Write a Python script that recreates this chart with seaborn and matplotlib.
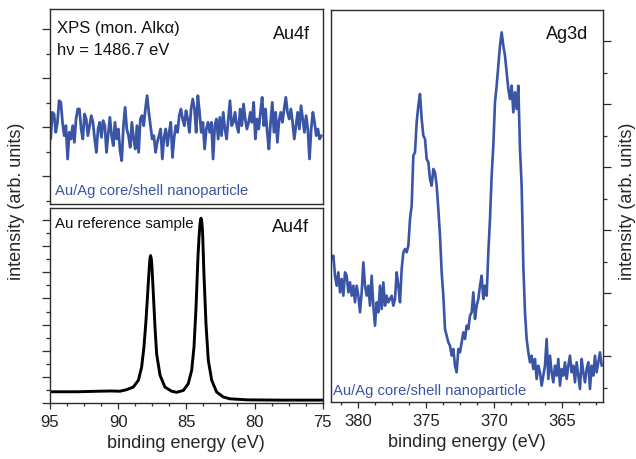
import numpy as np
import pandas as pd
import matplotlib
matplotlib.use("Agg")
import matplotlib.pyplot as plt
from matplotlib.ticker import MultipleLocator, NullLocator
import seaborn as sns

# ---------------- data ----------------
# Au4f region of the Au/Ag core/shell nanoparticle (arb. counts, equidistant energy grid)
au4f_shell_counts = [
    90, 170, 165, 110, 140, 205, 200, 140, 100, 130,
    30, 110, 90, 130, 80, 150, 180, 180, 120, 90,
    165, 150, 100, 130, 160, 140, 90, 50, 120, 140,
    95, 145, 130, 50, 105, 155, 100, 70, 140, 90,
    120, 55, 25, 130, 185, 120, 100, 65, 140, 90,
    60, 130, 50, 150, 160, 130, 180, 220, 170, 130,
    90, 100, 50, 80, 100, 120, 30, 95, 120, 70,
    110, 140, 35, 95, 130, 110, 160, 180, 150, 130,
    175, 150, 110, 180, 210, 180, 110, 220, 170, 110,
    140, 60, 120, 140, 110, 140, 30, 130, 150, 90,
    155, 100, 170, 120, 90, 150, 205, 130, 140, 170,
    130, 110, 180, 130, 195, 150, 120, 140, 170, 140,
    200, 90, 150, 120, 170, 215, 130, 180, 110, 60,
    140, 200, 110, 170, 80, 145, 170, 140, 180, 215,
    170, 150, 180, 140, 90, 130, 170, 120, 190, 150,
    110, 160, 120, 30, 120, 170, 140, 100, 120, 90,
    100,
]
au4f_shell_start, au4f_shell_stop = 94.95, 75.1

# Au4f region of the Au reference sample
au4f_ref_energy = [
    95.0, 93.0, 91.5, 90.5, 89.87, 89.38, 88.89, 88.52, 88.28, 88.11,
    87.96, 87.84, 87.72, 87.67, 87.62, 87.57, 87.52, 87.42, 87.30, 87.18,
    86.93, 86.57, 86.08, 85.71, 85.22, 84.86, 84.61, 84.44, 84.29, 84.15,
    84.07, 84.00, 83.93, 83.87, 83.81, 83.71, 83.56, 83.39, 83.14, 82.78,
    82.29, 81.80, 80.5, 78.0, 75.0,
]
au4f_ref_intensity = [
    0.43, 0.43, 0.45, 0.46, 0.45, 0.51, 0.61, 0.87, 1.37, 2.14,
    3.16, 4.17, 5.19, 5.52, 5.64, 5.52, 5.19, 4.17, 2.90, 1.88,
    1.06, 0.61, 0.45, 0.41, 0.48, 0.74, 1.25, 2.14, 3.66, 5.57,
    6.35, 6.84, 7.07, 6.95, 6.55, 4.94, 3.03, 1.63, 0.87, 0.42,
    0.23, 0.16, 0.12, 0.11, 0.11,
]

# Ag3d region of the Au/Ag core/shell nanoparticle (arb. counts, equidistant energy grid)
ag3d_shell_counts = [
    480, 490, 430, 400, 440, 380, 420, 370, 440, 430,
    380, 410, 370, 400, 350, 400, 370, 320, 380, 470,
    400, 370, 400, 340, 430, 340, 280, 350, 320, 400,
    330, 410, 340, 370, 350, 360, 370, 340, 360, 440,
    400, 350, 450, 500, 510, 500, 520, 600, 640, 790,
    800, 890, 940, 975, 900, 850, 840, 780, 770, 720,
    700, 750, 740, 700, 630, 550, 440, 370, 270, 250,
    230, 220, 190, 210, 160, 140, 210, 200, 230, 260,
    240, 280, 270, 310,
    320, 380, 300, 340, 360, 400, 430, 360, 400, 370,
    500, 600, 730, 820, 950, 1000, 1060, 1120, 1160, 1120,
    1090, 1040, 990, 960, 1000, 920, 980, 930, 1000, 810,
    700, 460, 320, 240, 200, 170, 190, 150, 180, 120,
    160, 140, 100, 130, 160, 240, 120, 190, 140, 110,
    160, 130, 180, 100, 150, 130, 170, 120, 160, 190,
    140, 160, 110, 170, 130, 90, 180, 140, 110, 150,
    170, 90, 160, 130, 190, 140, 170, 200, 160,
]
ag3d_shell_start, ag3d_shell_stop = 381.95, 362.1

au4f_limits = (95, 75)
ag3d_limits = (382, 362)

# ---------------- style ----------------
blue = "#3a55a6"
frame = "#2b2b2b"

sns.set_theme(style="white")
plt.rcParams["font.family"] = ["Liberation Sans", "DejaVu Sans"]
plt.rcParams["axes.edgecolor"] = frame
plt.rcParams["axes.linewidth"] = 1.0
plt.rcParams["xtick.color"] = frame
plt.rcParams["ytick.color"] = frame
plt.rcParams["xtick.labelcolor"] = "#222222"
plt.rcParams["ytick.labelcolor"] = "#222222"

W, H = 636, 460
fig = plt.figure(figsize=(W / 100, H / 100), dpi=100)


def px_axes(left, top, right, bottom):
    return fig.add_axes([left / W, 1 - bottom / H, (right - left) / W, (bottom - top) / H])


ax_top = px_axes(50, 10, 322.7, 205)
ax_bot = px_axes(50, 208.5, 322.7, 404)
ax_ag = px_axes(331, 11, 603, 403)

shell_df = pd.DataFrame({
    "energy": np.linspace(au4f_shell_start, au4f_shell_stop, len(au4f_shell_counts)),
    "counts": au4f_shell_counts,
})
ref_df = pd.DataFrame({"energy": au4f_ref_energy, "counts": au4f_ref_intensity})
ag_df = pd.DataFrame({
    "energy": np.linspace(ag3d_shell_start, ag3d_shell_stop, len(ag3d_shell_counts)),
    "counts": ag3d_shell_counts,
})

sns.lineplot(data=shell_df, x="energy", y="counts", ax=ax_top, color=blue, lw=2.0)
sns.lineplot(data=ref_df, x="energy", y="counts", ax=ax_bot, color="black", lw=2.1)
sns.lineplot(data=ag_df, x="energy", y="counts", ax=ax_ag, color=blue, lw=1.9)

for ax in (ax_top, ax_bot, ax_ag):
    ax.set_xlabel("")
    ax.set_ylabel("")
    for s in ax.spines.values():
        s.set_visible(True)
        s.set_color(frame)
        s.set_linewidth(1.0)

# --- top left: Au4f, core/shell ---
ax_top.set_xlim(*au4f_limits)
ax_top.set_ylim(-105, 480)
ax_top.xaxis.set_major_locator(NullLocator())
ax_top.yaxis.set_major_locator(MultipleLocator(147, offset=126))
ax_top.yaxis.set_minor_locator(MultipleLocator(73.5, offset=52.5))
ax_top.tick_params(axis="y", which="major", direction="out", length=5.5, width=0.9, left=True, labelleft=False)
ax_top.tick_params(axis="y", which="minor", direction="out", length=2.6, width=0.9, left=True)

# --- bottom left: Au4f, reference ---
ax_bot.set_xlim(*au4f_limits)
ax_bot.set_ylim(0, 7.48)
ax_bot.xaxis.set_major_locator(MultipleLocator(5))
ax_bot.xaxis.set_minor_locator(MultipleLocator(1.25))
ax_bot.yaxis.set_major_locator(MultipleLocator(1))
ax_bot.yaxis.set_minor_locator(MultipleLocator(0.5))
ax_bot.tick_params(axis="y", which="major", direction="out", length=5.5, width=0.9, left=True, labelleft=False)
ax_bot.tick_params(axis="y", which="minor", direction="out", length=2.6, width=0.9, left=True)
ax_bot.tick_params(axis="x", which="major", direction="out", length=4.6, width=0.9, bottom=True,
                   labelsize=12, pad=3)
ax_bot.tick_params(axis="x", which="minor", direction="out", length=2.4, width=0.9, bottom=True)
ax_bot.set_xlabel("binding energy (eV)", fontsize=13, labelpad=4)

# --- right: Ag3d, core/shell ---
ax_ag.set_xlim(*ag3d_limits)
ax_ag.set_ylim(51, 1227)
ax_ag.xaxis.set_major_locator(MultipleLocator(5))
ax_ag.xaxis.set_minor_locator(MultipleLocator(1.25))
ax_ag.yaxis.set_major_locator(MultipleLocator(189))
ax_ag.yaxis.set_minor_locator(MultipleLocator(94.5))
ax_ag.tick_params(axis="y", which="major", direction="out", length=5.8, width=0.9,
                  left=False, right=True, labelleft=False, labelright=False)
ax_ag.tick_params(axis="y", which="minor", direction="out", length=2.9, width=0.9,
                  left=False, right=True)
ax_ag.tick_params(axis="x", which="major", direction="out", length=4.6, width=0.9, bottom=True,
                  labelsize=12, pad=3)
ax_ag.tick_params(axis="x", which="minor", direction="out", length=2.4, width=0.9, bottom=True)
ax_ag.set_xlabel("binding energy (eV)", fontsize=13, labelpad=4)

# --- shared axis titles ---
fig.text(17 / W, 1 - 201 / H, "intensity (arb. units)", rotation=90, ha="center", va="center", fontsize=13)
fig.text(627 / W, 1 - 201 / H, "intensity (arb. units)", rotation=90, ha="center", va="center", fontsize=13)

# --- annotations ---
ax_top.text(0.026, 0.882, "XPS (mon. Alk\u03b1)", transform=ax_top.transAxes, fontsize=12,
            ha="left", va="baseline", color="#111111")
ax_top.text(0.026, 0.769, "h\u03bd = 1486.7 eV", transform=ax_top.transAxes, fontsize=12,
            ha="left", va="baseline", color="#111111")
ax_top.text(0.953, 0.851, "Au4f", transform=ax_top.transAxes, fontsize=13,
            ha="right", va="baseline", color="#111111")
ax_top.text(0.018, 0.051, "Au/Ag core/shell nanoparticle", transform=ax_top.transAxes, fontsize=10.6,
            ha="left", va="baseline", color=blue)

ax_bot.text(0.018, 0.898, "Au reference sample", transform=ax_bot.transAxes, fontsize=10.8,
            ha="left", va="baseline", color="#111111")
ax_bot.text(0.95, 0.878, "Au4f", transform=ax_bot.transAxes, fontsize=13,
            ha="right", va="baseline", color="#111111")

ax_ag.text(0.945, 0.928, "Ag3d", transform=ax_ag.transAxes, fontsize=13,
           ha="right", va="baseline", color="#111111")
ax_ag.text(0.007, 0.020, "Au/Ag core/shell nanoparticle", transform=ax_ag.transAxes, fontsize=10.6,
           ha="left", va="baseline", color=blue)

fig.savefig("out.png", dpi=100)
